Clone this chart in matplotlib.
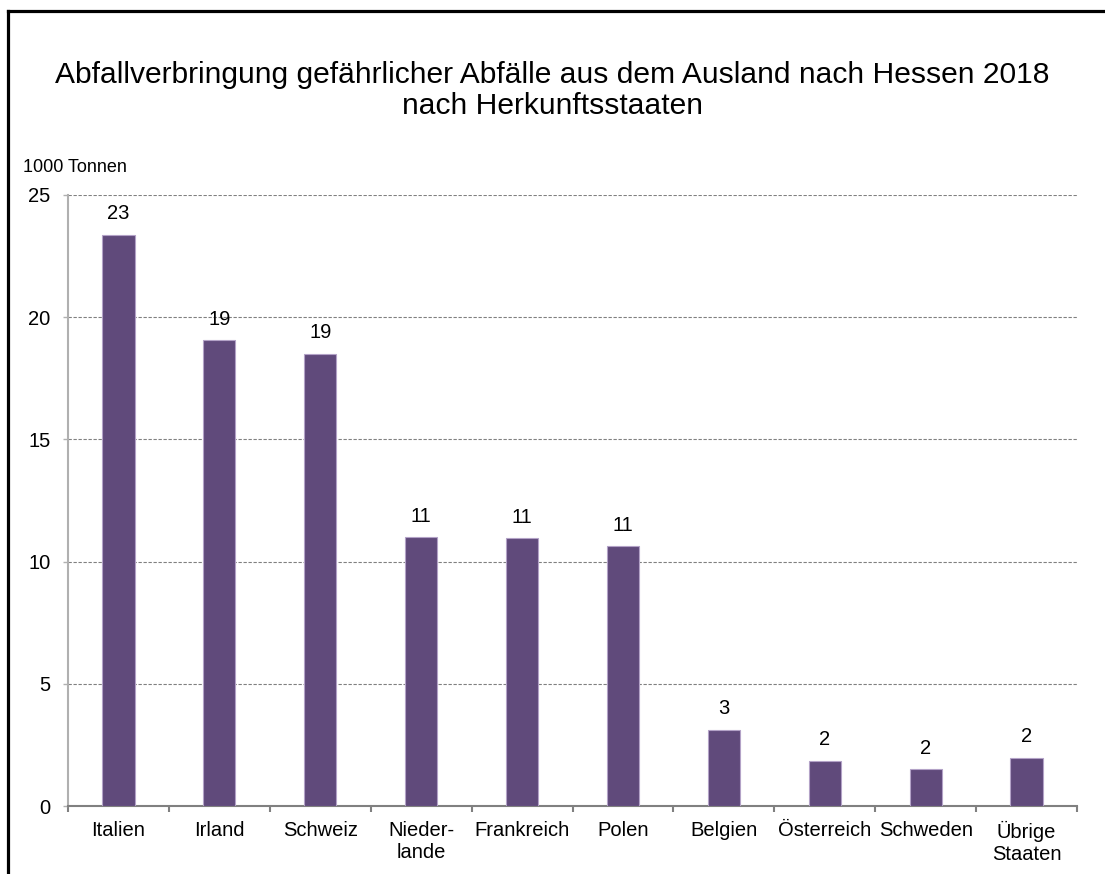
import matplotlib
matplotlib.use("Agg")
import matplotlib.pyplot as plt
from matplotlib.lines import Line2D

plt.rcParams['font.family'] = ['Liberation Sans', 'DejaVu Sans']

categories = ["Italien", "Irland", "Schweiz", "Nieder-\nlande", "Frankreich",
              "Polen", "Belgien", "Österreich", "Schweden", "Übrige\nStaaten"]
values = [23.36, 19.05, 18.49, 10.99, 10.95, 10.62, 3.10, 1.85, 1.50, 1.98]
labels = ["23", "19", "19", "11", "11", "11", "3", "2", "2", "2"]
yticks = [0, 5, 10, 15, 20, 25]

W, H = 1105, 874
fig = plt.figure(figsize=(W / 100, H / 100), dpi=100)
ax = fig.add_axes([68 / W, 1 - 806 / H, (1077 - 68) / W, (806 - 195) / H])

x = list(range(len(categories)))
ax.bar(x, values, width=0.32, color="#604A7B", edgecolor="#B3A2C7", linewidth=0.8, zorder=3)

for xi, v, lab in zip(x, values, labels):
    ax.annotate(lab, (xi, v), xytext=(0, 8.5), textcoords="offset points",
                ha="center", va="bottom", fontsize=14.5, color="black")

ax.set_xlim(-0.5, len(categories) - 0.5)
ax.set_ylim(0, 25)
ax.set_yticks(yticks)
ax.set_yticklabels([str(t) for t in yticks], fontsize=14.5)
ax.yaxis.grid(True, linestyle=(0, (3, 1.5)), color="#808080", linewidth=0.8, zorder=0)

ax.set_xticks([i + 0.5 for i in range(-1, len(categories))])
ax.set_xticklabels([])
ax.set_xticks(x, minor=True)
ax.set_xticklabels(categories, minor=True, fontsize=14.5, linespacing=1.15)
ax.tick_params(axis="x", which="major", direction="out", length=4.5, color="#808080", width=1.5)
ax.tick_params(axis="x", which="minor", length=0, pad=11)
ax.tick_params(axis="y", direction="out", length=3.6, color="#B0B0B0", width=1, pad=9)

for s in ["top", "right"]:
    ax.spines[s].set_visible(False)
ax.spines["left"].set_color("#B0B0B0")
ax.spines["left"].set_linewidth(1.5)
ax.spines["bottom"].set_color("#808080")
ax.spines["bottom"].set_linewidth(1.5)

fig.text(0.5, 1 - 75 / H, "Abfallverbringung gefährlicher Abfälle aus dem Ausland nach Hessen 2018",
         ha="center", va="center", fontsize=21.6)
fig.text(0.5, 1 - 106 / H, "nach Herkunftsstaaten", ha="center", va="center", fontsize=21.6)
fig.text(23 / W, 1 - 167 / H, "1000 Tonnen", ha="left", va="center", fontsize=13)

fig.add_artist(Line2D([8 / W, 1], [1 - 11 / H, 1 - 11 / H], transform=fig.transFigure,
                      color="black", linewidth=2.3, solid_capstyle="projecting"))
fig.add_artist(Line2D([8 / W, 8 / W], [0, 1 - 11 / H], transform=fig.transFigure,
                      color="black", linewidth=2.3, solid_capstyle="projecting"))

fig.savefig("out.png", dpi=100, facecolor="white")
